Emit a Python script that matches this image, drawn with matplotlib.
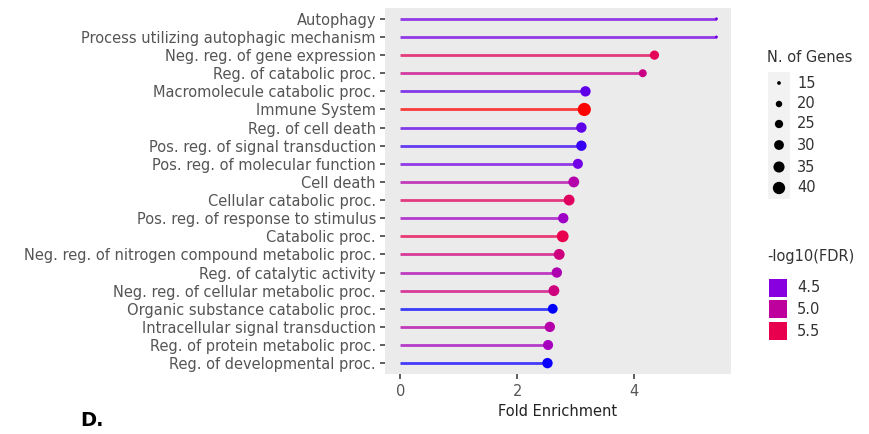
import numpy as np
import matplotlib
matplotlib.use("Agg")
import matplotlib.pyplot as plt
from matplotlib.colors import LinearSegmentedColormap, Normalize

terms = ['Autophagy', 'Process utilizing autophagic mechanism',
         'Neg. reg. of gene expression', 'Reg. of catabolic proc.',
         'Macromolecule catabolic proc.', 'Immune System', 'Reg. of cell death',
         'Pos. reg. of signal transduction', 'Pos. reg. of molecular function',
         'Cell death', 'Cellular catabolic proc.', 'Pos. reg. of response to stimulus',
         'Catabolic proc.', 'Neg. reg. of nitrogen compound metabolic proc.',
         'Reg. of catalytic activity', 'Neg. reg. of cellular metabolic proc.',
         'Organic substance catabolic proc.', 'Intracellular signal transduction',
         'Reg. of protein metabolic proc.', 'Reg. of developmental proc.']
fold = [5.41, 5.41, 4.35, 4.15, 3.17, 3.15, 3.10, 3.10, 3.04, 2.97,
        2.89, 2.79, 2.78, 2.72, 2.68, 2.63, 2.61, 2.56, 2.53, 2.52]
genes = [14, 14, 28, 24, 32, 44, 32, 32, 31, 34,
         34, 32, 38, 34, 32, 34, 30, 32, 31, 32]
fdr = [4.45, 4.45, 5.45, 5.15, 4.4, 5.8, 4.4, 4.3, 4.45, 4.9,
       5.4, 4.7, 5.5, 5.2, 4.85, 5.2, 4.17, 4.9, 4.75, 4.2]

size_breaks = [15, 20, 25, 30, 35, 40]
fdr_breaks = [4.5, 5.0, 5.5]

vmin, vmax = 4.17, 5.8
stops = [(4.17, '#0000FF'), (4.5, '#8A00E0'), (5.0, '#BE009C'), (5.5, '#E8004F'), (5.8, '#FF0000')]
cmap = LinearSegmentedColormap.from_list(
    'fdr', [((v - vmin) / (vmax - vmin), c) for v, c in stops])
norm = Normalize(vmin, vmax)


def msize(n):
    d2 = 14 + 5.5 * (np.asarray(n, dtype=float) - 15)  # squared diameter in px
    return np.clip(d2, 9, None) * 0.72 ** 2


fig = plt.figure(figsize=(8.7, 4.34), dpi=100)
ax = fig.add_axes([385 / 870, 1 - 374 / 434, 346 / 870, 366 / 434])
ax.set_facecolor('#EBEBEB')

n = len(terms)
ypos = np.arange(n)[::-1]
cols = cmap(norm(fdr))
ax.hlines(ypos, 0, fold, colors=cols, linewidth=2.0, alpha=0.75, zorder=2)
ax.scatter(fold, ypos, s=msize(genes), c=cols, zorder=3, linewidths=0)

ax.set_xlim(-0.26, 5.66)
ax.set_ylim(-0.6, n - 0.4)
ax.set_yticks(ypos)
ax.set_yticklabels(terms)
ax.set_xticks([0, 2, 4])
for s in ax.spines.values():
    s.set_visible(False)
ax.tick_params(colors='#333333', labelcolor='#555555', labelsize=10.5, length=3.5, width=1.1)
ax.tick_params(axis='y', pad=3)
ax.tick_params(axis='x', pad=4)
ax.set_xlabel('Fold Enrichment', fontsize=10.5, color='#222222', labelpad=3)

# legends drawn in pixel coordinates
lg = fig.add_axes([0, 0, 1, 1], facecolor='none')
lg.set_xlim(0, 870)
lg.set_ylim(434, 0)
lg.axis('off')

lg.text(767, 57, 'N. of Genes', fontsize=10.5, color='#333333', va='center')
lg.add_patch(plt.Rectangle((768, 72), 22, 127, facecolor='#F2F2F2', edgecolor='none'))
ly = [83, 104, 124, 145, 167, 188]
lg.scatter([779] * len(size_breaks), ly, s=msize(size_breaks), c='black', linewidths=0)
for y, b in zip(ly, size_breaks):
    lg.text(797, y, str(b), fontsize=10.5, color='#333333', va='center')

lg.text(767, 257, '-log10(FDR)', fontsize=10.5, color='#333333', va='center')
cy = [288, 309, 331]
lg.scatter([778] * len(fdr_breaks), cy, s=150, marker='s', c=cmap(norm(fdr_breaks)), linewidths=0)
for y, b in zip(cy, fdr_breaks):
    lg.text(797, y, f'{b:.1f}', fontsize=10.5, color='#333333', va='center')

lg.text(80, 421, 'D.', fontsize=14, fontweight='bold', color='black', va='center')

fig.savefig('out.png', dpi=100)
